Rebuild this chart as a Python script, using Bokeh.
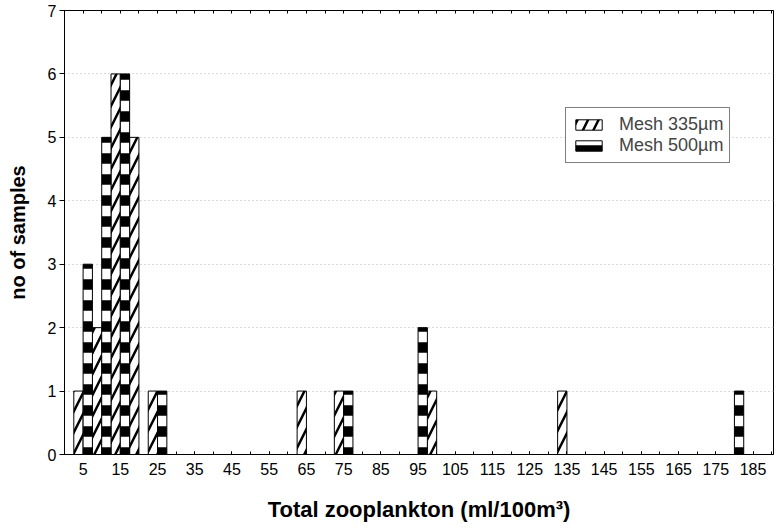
from bokeh.plotting import figure
from bokeh.models import ColumnDataSource, FixedTicker, LinearAxis, Legend, LegendItem, Range1d
from bokeh.transform import dodge
from bokeh.embed import file_html
from bokeh.resources import INLINE

# bin centres (ml/100m3) and counts of samples
bins = [5, 10, 15, 20, 25, 30, 35, 40, 45, 50, 55, 60, 65, 70, 75, 80, 85, 90, 95,
        100, 105, 110, 115, 120, 125, 130, 135, 140, 145, 150, 155, 160, 165, 170,
        175, 180, 185]
mesh335 = [1, 2, 6, 5, 1, 0, 0, 0, 0, 0, 0, 0, 1, 0, 1, 0, 0, 0, 0,
           1, 0, 0, 0, 0, 0, 0, 1, 0, 0, 0, 0, 0, 0, 0,
           0, 0, 0]
mesh500 = [3, 5, 6, 0, 1, 0, 0, 0, 0, 0, 0, 0, 0, 0, 1, 0, 0, 0, 2,
           0, 0, 0, 0, 0, 0, 0, 0, 0, 0, 0, 0, 0, 0, 0,
           0, 1, 0]
x_tick_labels = [5, 15, 25, 35, 45, 55, 65, 75, 85, 95, 105, 115, 125, 135, 145,
                 155, 165, 175, 185]
y_ticks = [0, 1, 2, 3, 4, 5, 6, 7]
series_names = ["Mesh 335\u00b5m", "Mesh 500\u00b5m"]
x_title = "Total zooplankton (ml/100m\u00b3)"
y_title = "no of samples"

FONT = "Liberation Sans"

src335 = ColumnDataSource(dict(bin=[b for b, v in zip(bins, mesh335) if v > 0],
                               count=[v for v in mesh335 if v > 0]))
src500 = ColumnDataSource(dict(bin=[b for b, v in zip(bins, mesh500) if v > 0],
                               count=[v for v in mesh500 if v > 0]))

p = figure(width=780, height=531, output_backend="svg", toolbar_location=None,
           x_range=Range1d(0, 190.5), y_range=Range1d(0, 7),
           min_border_left=64, min_border_right=7, min_border_top=10, min_border_bottom=77)

r1 = p.vbar(x=dodge("bin", -1.25), top="count", width=2.5, source=src335,
            fill_color="white", line_color="black", line_width=1,
            hatch_pattern="/", hatch_color="black", hatch_weight=2.5, hatch_scale=21)
r2 = p.vbar(x=dodge("bin", 1.25), top="count", width=2.5, source=src500,
            fill_color="white", line_color="black", line_width=1,
            hatch_pattern="-", hatch_color="black", hatch_weight=10.5, hatch_scale=21)

p.outline_line_color = "black"
p.outline_line_width = 1
p.background_fill_color = "white"
p.border_fill_color = "white"

# grid
p.xgrid.grid_line_color = None
p.ygrid.ticker = FixedTicker(ticks=y_ticks)
p.ygrid.grid_line_color = "#b4b4b4"
p.ygrid.grid_line_dash = "1 3"
p.ygrid.grid_line_width = 1

# x axis
xa = p.xaxis[0]
xa.ticker = FixedTicker(ticks=x_tick_labels, minor_ticks=bins + [0, 190])
xa.major_tick_in = 3
xa.major_tick_out = 0
xa.minor_tick_in = 3
xa.minor_tick_out = 0
xa.major_label_text_font = FONT
xa.major_label_text_font_size = "16px"
xa.major_label_text_color = "black"
xa.major_label_standoff = 8
xa.axis_label = x_title
xa.axis_label_text_font = FONT
xa.axis_label_text_font_style = "bold"
xa.axis_label_text_font_size = "22px"
xa.axis_label_text_color = "black"
xa.axis_label_text_line_height = 0.9
xa.axis_label_standoff = 19
xa.axis_line_color = "black"

# y axis
ya = p.yaxis[0]
ya.ticker = FixedTicker(ticks=y_ticks)
ya.major_tick_in = 0
ya.major_tick_out = 5
ya.minor_tick_line_color = None
ya.major_label_text_font = FONT
ya.major_label_text_font_size = "16px"
ya.major_label_text_color = "black"
ya.major_label_standoff = 3
ya.axis_label = y_title
ya.axis_label_text_font = FONT
ya.axis_label_text_font_style = "bold"
ya.axis_label_text_font_size = "20px"
ya.axis_label_text_color = "black"
ya.axis_label_standoff = 16
ya.axis_line_color = "black"

# top axis (ticks only)
top = LinearAxis(ticker=FixedTicker(ticks=bins + [0, 190]),
                 major_tick_in=3, major_tick_out=0, minor_tick_line_color=None,
                 major_label_standoff=0,
                 major_label_text_color=None, major_label_text_font_size="1px",
                 axis_line_color="black")
p.add_layout(top, "above")

legend = Legend(items=[LegendItem(label=series_names[0], renderers=[r1]),
                       LegendItem(label=series_names[1], renderers=[r2])],
                location=(501, 291),
                label_text_font=FONT, label_text_font_size="18px",
                glyph_width=33, glyph_height=13, label_standoff=14,
                padding=6, spacing=0, margin=0,
                border_line_color="black", border_line_width=1,
                background_fill_color="white", background_fill_alpha=1.0)
p.add_layout(legend, "center")

open("out.html", "w").write(file_html(p, INLINE))
